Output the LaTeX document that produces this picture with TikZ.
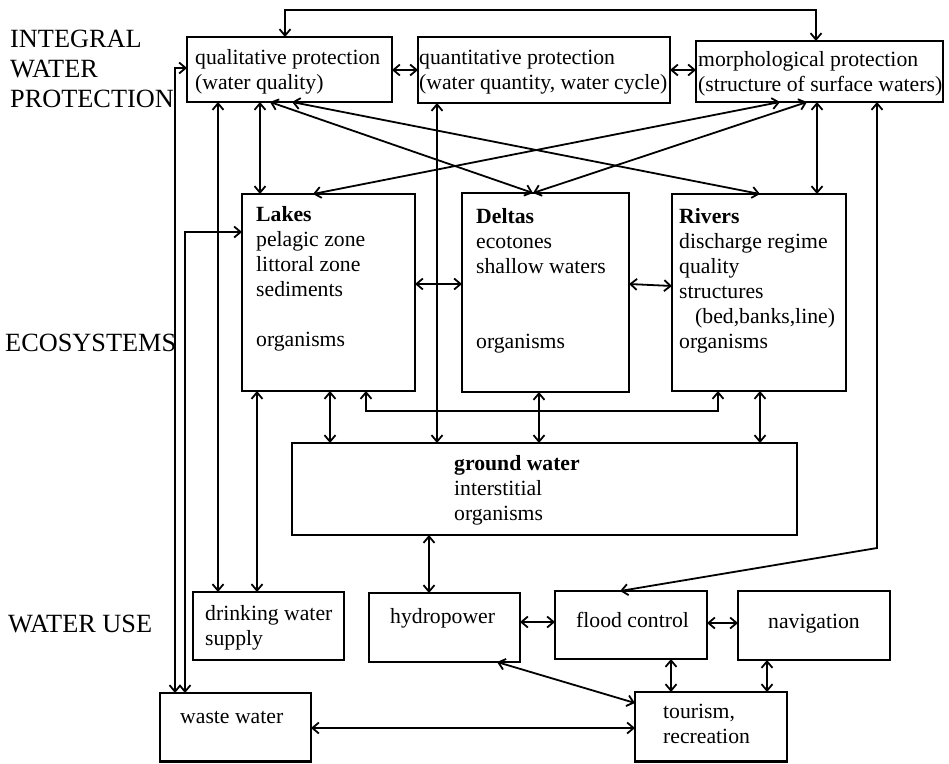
\documentclass[tikz,border=0pt]{standalone}
\usepackage{fontspec}
\setmainfont{Liberation Serif}
\usetikzlibrary{arrows.meta,fit}
\newcommand\boxlines[1]{\begin{tabular}[t]{@{}l@{}}#1\end{tabular}}
\begin{document}
\begin{tikzpicture}[x=1pt,y=-1pt,
  box/.style={draw, line width=2.1pt, inner sep=0pt, outer sep=0pt},
  txt/.style={anchor=base west, inner sep=0pt, font=\fontsize{21.7}{25}\selectfont},
  lbl/.style={anchor=base west, inner sep=0pt, font=\fontsize{26.3}{30}\selectfont},
  dbl/.style={line width=1.8pt, {Straight Barb[length=6.5pt,width=11pt]}-{Straight Barb[length=6.5pt,width=11pt]}},
]
\useasboundingbox (0,0) rectangle (949,763);

% boxes
\node[box, fit={(187,37)(392,102)}] (qual) {};
\node[box, fit={(418,37)(670,103)}] (quant) {};
\node[box, fit={(696,41)(943,102)}] (morph) {};
\node[box, fit={(242,194)(415,391)}] (lakes) {};
\node[box, fit={(462,193)(629,392)}] (deltas) {};
\node[box, fit={(672,194)(846,391)}] (rivers) {};
\node[box, fit={(292,443)(797,535)}] (ground) {};
\node[box, fit={(193,592)(344,660)}] (drink) {};
\node[box, fit={(369,593)(520,662)}] (hydro) {};
\node[box, fit={(555,591)(707,659)}] (flood) {};
\node[box, fit={(738,591)(890,660)}] (nav) {};
\node[box, fit={(160,693)(311,761.5)}] (waste) {};
\node[box, fit={(635,692)(787,761.5)}] (tour) {};

% texts
\node[txt] (tqual) at (195,64) {\boxlines{qualitative protection\\(water quality)}};
\node[txt] (tquant) at (419,64) {\boxlines{quantitative protection\\(water quantity, water cycle)}};
\node[txt] (tmorph) at (698,66) {\boxlines{morphological protection\\(structure of surface waters)}};
\node[txt] (tlakes) at (256,221) {\boxlines{\textbf{Lakes}\\pelagic zone\\littoral zone\\sediments\\ \\organisms}};
\node[txt] (tdeltas) at (476,223) {\boxlines{\textbf{Deltas}\\ecotones\\shallow waters\\ \\ \\organisms}};
\node[txt] (trivers) at (679,223) {\boxlines{\textbf{Rivers}\\discharge regime\\quality\\structures\\\hspace{16pt}(bed,banks,line)\\organisms}};
\node[txt] (tground) at (454,470) {\boxlines{\textbf{ground water}\\interstitial\\organisms}};
\node[txt] (tdrink) at (205,620) {\boxlines{drinking water\\supply}};
\node[txt] (thydro) at (390,623) {hydropower};
\node[txt] (tflood) at (576,627) {flood control};
\node[txt] (tnav) at (768,628) {navigation};
\node[txt] (twaste) at (180,723) {waste water};
\node[txt] (ttour) at (663,718) {\boxlines{tourism,\\recreation}};

% side labels
\node[lbl] (lint) at (10,47) {\boxlines{INTEGRAL\\WATER\\PROTECTION}};
\node[lbl] (leco) at (5,351) {ECOSYSTEMS};
\node[lbl] (luse) at (8,632) {WATER USE};

% corner coordinates
\coordinate (topl) at (285,10);
\coordinate (topr) at (816,10);
\coordinate (wq) at (175,68);
\coordinate (wl) at (185,232);
\coordinate (mf) at (877,548);
\coordinate (lrl) at (366,411);
\coordinate (lrr) at (718,411);

% top row
\draw[dbl] (qual.north -| topl) -- (topl) -- (topr) -- (morph.north -| topr);
\draw[dbl] (qual.east |- 0,70) -- (quant.west |- 0,70);
\draw[dbl] (quant.east |- 0,70) -- (morph.west |- 0,70);

% left verticals
\draw[dbl] (qual.west |- wq) -- (wq) -- (waste.north -| wq);
\draw[dbl] (lakes.west |- wl) -- (wl) -- (waste.north -| wl);
\draw[dbl] (qual.south -| 218,0) -- (drink.north -| 218,0);
\draw[dbl] (lakes.south -| 257,0) -- (drink.north -| 257,0);
\draw[dbl] (qual.south -| 260,0) -- (lakes.north -| 260,0);

% diagonals
\draw[dbl] (qual.south -| 270,0) -- (deltas.north -| 533,0);
\draw[dbl] (qual.south -| 292,0) -- (rivers.north -| 760,0);
\draw[dbl] (morph.south -| 780,0) -- (lakes.north -| 313,0);
\draw[dbl] (morph.south -| 807,0) -- (deltas.north -| 533,0);

% right side
\draw[dbl] (morph.south -| 817,0) -- (rivers.north -| 817,0);
\draw[dbl] (morph.south -| mf) -- (mf) -- (flood.north -| 620,0);

% quantitative to ground water
\draw[dbl] (quant.south -| 437,0) -- (ground.north -| 437,0);

% ecosystems
\draw[dbl] (lakes.east |- 0,284) -- (deltas.west |- 0,284);
\draw[dbl] (deltas.east |- 0,284) -- (rivers.west |- 0,286);
\draw[dbl] (lakes.south -| 330,0) -- (ground.north -| 330,0);
\draw[dbl] (deltas.south -| 539,0) -- (ground.north -| 539,0);
\draw[dbl] (rivers.south -| 760,0) -- (ground.north -| 760,0);
\draw[dbl] (lakes.south -| lrl) -- (lrl) -- (lrr) -- (rivers.south -| lrr);

% water use
\draw[dbl] (ground.south -| 429,0) -- (hydro.north -| 429,0);
\draw[dbl] (hydro.east |- 0,622) -- (flood.west |- 0,622);
\draw[dbl] (flood.east |- 0,623) -- (nav.west |- 0,623);
\draw[dbl] (flood.south -| 671,0) -- (tour.north -| 671,0);
\draw[dbl] (nav.south -| 767,0) -- (tour.north -| 767,0);
\draw[dbl] (hydro.south -| 497,0) -- (tour.west |- 0,703);
\draw[dbl] (waste.east |- 0,728) -- (tour.west |- 0,728);
\end{tikzpicture}
\end{document}
